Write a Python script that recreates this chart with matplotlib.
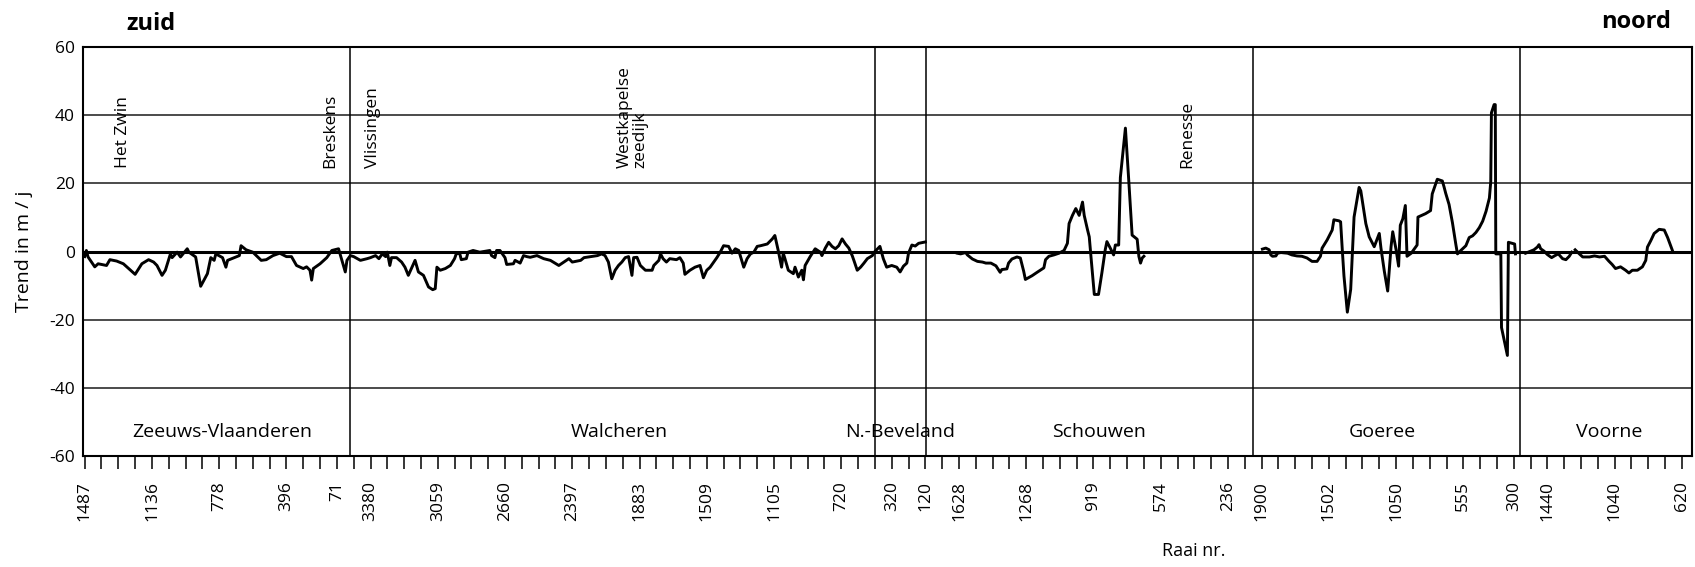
import numpy as np
import matplotlib.pyplot as plt

plt.rcParams['font.family'] = ['Open Sans', 'DejaVu Sans']
plt.rcParams['axes.unicode_minus'] = False

# trend (m/j) per kustvak, x = positie langs de raai-as (1 eenheid = 1 streepje)
zeeuws_vlaanderen = [
    (0.0, -1.5), (0.1, 0.3), (0.2, -1.6), (0.6, -4.5), (0.8, -3.6), (1.3, -4.1), (1.5, -2.4),
    (1.9, -2.8), (2.3, -3.6), (3.0, -6.7), (3.4, -3.6), (3.8, -2.4), (4.1, -3.1), (4.3, -4.1),
    (4.6, -7.0), (4.8, -5.5), (5.1, -0.7), (5.2, -1.8), (5.5, -0.2), (5.7, -1.6), (6.1, 0.8),
    (6.2, -0.2), (6.6, -1.6), (6.9, -10.2), (7.3, -6.5), (7.5, -1.8), (7.7, -2.6), (7.8, -0.7),
    (8.2, -1.8), (8.4, -4.6), (8.5, -2.6), (8.9, -1.8), (9.2, -1.2), (9.3, 1.7), (9.6, 0.5),
    (10.0, -0.2), (10.5, -2.6), (10.8, -2.4), (11.2, -1.2), (11.6, -0.5), (12.0, -1.5),
    (12.3, -1.5), (12.6, -4.1), (13.0, -5.0), (13.2, -4.5), (13.4, -5.5), (13.5, -8.4),
    (13.6, -5.0), (14.0, -3.6), (14.4, -1.8), (14.7, 0.3), (15.1, 0.8), (15.3, -2.6),
    (15.5, -6.0), (15.6, -2.6), (15.8, -1.2),
]
walcheren = [
    (16.0, -1.5), (16.4, -2.6), (16.8, -2.1), (17.0, -1.8), (17.3, -1.2), (17.5, -2.1),
    (17.7, -0.7), (17.9, -1.5), (18.0, -0.2), (18.15, -4.1), (18.25, -1.8), (18.55, -1.8),
    (18.85, -3.1), (19.05, -4.6), (19.25, -7.0), (19.45, -4.8), (19.65, -2.6), (19.85, -6.0),
    (20.15, -7.0), (20.45, -10.4), (20.7, -11.2), (20.85, -10.9), (20.95, -4.6), (21.15, -5.5),
    (21.45, -5.0), (21.75, -4.1), (22.0, -2.1), (22.1, -0.7), (22.3, -0.5), (22.4, -2.4),
    (22.7, -2.1), (22.8, -0.2), (23.1, 0.3), (23.5, -0.2), (24.1, 0.3), (24.2, -1.2),
    (24.4, -1.8), (24.5, 0.3), (24.7, 0.3), (25.0, -1.8), (25.1, -3.8), (25.5, -3.6),
    (25.6, -2.6), (25.9, -3.4), (26.1, -1.2), (26.3, -1.5), (26.5, -1.7), (26.9, -1.2),
    (27.3, -2.1), (27.7, -2.6), (28.2, -4.1), (28.5, -3.1), (28.8, -2.1), (29.0, -3.1),
    (29.5, -2.6), (29.7, -1.8), (30.1, -1.5), (30.5, -1.2), (30.75, -0.7), (30.95, -1.2),
    (31.15, -3.1), (31.35, -8.0), (31.55, -5.5), (31.75, -4.1), (31.95, -3.1), (32.15, -1.8),
    (32.35, -1.5), (32.55, -7.0), (32.65, -1.8), (32.85, -1.7), (33.05, -4.1), (33.35, -5.5),
    (33.75, -5.5), (33.85, -4.1), (34.15, -2.6), (34.25, -0.7), (34.4, -2.1), (34.6, -3.1),
    (34.8, -2.1), (35.2, -2.4), (35.4, -1.8), (35.6, -3.4), (35.7, -6.7), (36.0, -5.5),
    (36.3, -4.6), (36.6, -4.1), (36.8, -7.7), (37.0, -5.5), (37.2, -4.6), (37.6, -1.8),
    (37.8, -0.2), (38.0, 1.7), (38.3, 1.5), (38.5, -0.5), (38.7, 0.8), (38.9, 0.3),
    (39.2, -4.6), (39.4, -2.1), (39.6, -0.7), (39.8, -0.2), (40.0, 1.5), (40.2, 1.7),
    (40.6, 2.2), (40.7, 2.7), (40.9, 3.7), (41.05, 4.7), (41.25, 0.3), (41.35, -2.1),
    (41.45, -4.6), (41.55, -0.5), (41.65, -2.1), (41.85, -5.5), (42.15, -6.5), (42.25, -4.6),
    (42.45, -7.5), (42.65, -5.5), (42.75, -8.3), (42.85, -4.1), (43.15, -1.5), (43.45, 0.8),
    (43.75, -0.2), (43.85, -1.2), (44.05, 1.0), (44.25, 2.7), (44.45, 1.5), (44.65, 0.8),
    (44.85, 1.7), (45.05, 3.7), (45.25, 2.2), (45.45, 1.0), (45.65, -1.2), (45.75, -2.6),
    (45.95, -5.5), (46.15, -4.6), (46.35, -3.4), (46.55, -2.1), (46.85, -1.2), (47.0, 0.0),
]
noord_beveland = [
    (47.3, 1.5), (47.5, -2.1), (47.7, -4.6), (48.0, -4.1), (48.3, -4.6), (48.5, -6.0),
    (48.7, -4.3), (48.9, -3.4), (49.0, -0.5), (49.2, 1.9), (49.4, 1.6), (49.6, 2.4),
    (49.8, 2.6), (50.0, 2.8),
]
schouwen = [
    (51.9, -0.5), (52.1, -0.7), (52.4, -0.3), (52.5, -1.0), (52.8, -2.2), (53.1, -2.9),
    (53.4, -3.1), (53.6, -3.4), (53.9, -3.4), (54.2, -4.2), (54.45, -6.1), (54.55, -5.3),
    (54.85, -5.1), (54.95, -3.4), (55.15, -2.2), (55.45, -1.6), (55.65, -1.9), (55.85, -5.8),
    (55.95, -8.2), (56.35, -7.1), (56.65, -6.1), (57.05, -4.8), (57.15, -2.4), (57.35, -1.4),
    (57.65, -1.0), (57.95, -0.5), (58.25, 0.3), (58.45, 2.4), (58.55, 8.2), (58.75, 10.6),
    (58.95, 12.6), (59.15, 10.6), (59.35, 14.5), (59.45, 10.6), (59.65, 6.3), (59.75, 4.3),
    (59.85, -1.4), (60.05, -12.6), (60.3, -12.6), (60.5, -6.3), (60.7, 0.5), (60.8, 2.9),
    (61.0, 1.0), (61.2, -1.0), (61.3, 1.9), (61.5, 1.9), (61.6, 21.7), (61.9, 36.2),
    (62.1, 20.8), (62.3, 4.8), (62.6, 3.6), (62.7, -1.4), (62.8, -3.4), (62.9, -1.9),
    (63.0, -1.4),
]
goeree = [
    (70.05, 0.7), (70.25, 1.0), (70.45, 0.5), (70.55, -1.0), (70.65, -1.4), (70.85, -1.3),
    (70.95, -0.5), (71.15, -0.3), (71.55, -0.5), (71.8, -1.0), (72.1, -1.3), (72.4, -1.4),
    (72.7, -1.9), (73.0, -2.9), (73.3, -2.9), (73.5, -1.4), (73.6, 1.0), (73.9, 3.4),
    (74.2, 6.3), (74.3, 9.3), (74.6, 9.0), (74.7, 8.7), (74.8, 0.5), (74.9, -7.2),
    (75.1, -17.8), (75.3, -11.1), (75.5, 10.1), (75.8, 18.8), (75.9, 17.8), (76.2, 8.2),
    (76.4, 4.3), (76.7, 1.4), (77.0, 5.3), (77.1, 1.0), (77.3, -5.8), (77.5, -11.6),
    (77.7, 1.4), (77.8, 5.8), (78.0, 0.5), (78.15, -4.3), (78.25, 7.7), (78.4, 9.6),
    (78.55, 13.5), (78.65, -1.4), (78.9, -0.5), (79.25, 1.9), (79.3, 10.1), (79.75, 11.1),
    (80.05, 12.0), (80.15, 16.9), (80.45, 21.2), (80.75, 20.7), (80.85, 19.0), (80.95, 17.1),
    (81.15, 13.8), (81.35, 8.5), (81.55, 2.2), (81.65, -0.7), (81.85, 0.3), (82.15, 1.7),
    (82.35, 4.1), (82.55, 4.6), (82.75, 5.6), (82.95, 7.0), (83.15, 8.9), (83.35, 11.8),
    (83.55, 15.7), (83.63, 20.5), (83.67, 40.7), (83.83, 43.1), (83.9, 43.1), (83.93, -0.7),
    (84.23, -0.7), (84.27, -22.3), (84.62, -30.5), (84.68, 2.7), (85.05, 2.2), (85.1, -0.7),
]
voorne = [
    (85.7, -0.5), (86.0, 0.1), (86.2, 0.5), (86.4, 1.3), (86.5, 2.0), (86.6, 0.8), (86.8, 0.1),
    (87.0, -0.9), (87.25, -1.8), (87.45, -1.2), (87.65, -0.7), (87.9, -2.1), (88.1, -2.4),
    (88.3, -1.4), (88.45, -0.2), (88.55, np.nan),
    (88.65, 0.5), (88.9, -0.7), (89.1, -1.6), (89.5, -1.6), (89.8, -1.3), (90.1, -1.6),
    (90.4, -1.4), (90.65, -2.8), (90.85, -3.8), (91.05, -5.0), (91.35, -4.5), (91.65, -5.5),
    (91.85, -6.3), (92.05, -5.5), (92.35, -5.5), (92.65, -4.5), (92.85, -2.6), (92.95, 1.3),
    (93.15, 3.2), (93.35, 5.3), (93.65, 6.5), (93.95, 6.3), (94.15, 4.1), (94.45, 0.1),
]

# raainummers onder de as
tick_pos = [0, 4, 8, 12, 15, 17, 21, 25, 29, 33, 37, 41, 45, 48, 50, 52, 56, 60, 64, 68,
            70, 74, 78, 82, 85, 87, 91, 95]
tick_raai = ['1487', '1136', '778', '396', '71', '3380', '3059', '2660', '2397', '1883',
             '1509', '1105', '720', '320', '120', '1628', '1268', '919', '574', '236',
             '1900', '1502', '1050', '555', '300', '1440', '1040', '620']

# kustvakken
region_bounds = [15.8, 47.0, 50.06, 69.5, 85.36]
region_names = ['Zeeuws-Vlaanderen', 'Walcheren', 'N.-Beveland', 'Schouwen', 'Goeree', 'Voorne']
region_centers = [8.2, 31.8, 48.5, 60.3, 77.2, 90.7]

places = ['Het Zwin', 'Breskens', 'Vlissingen', 'Westkapelse\nzeedijk', 'Renesse']
place_pos = [2.3, 14.6, 17.15, 32.6, 65.6]

fig = plt.figure(figsize=(16.95, 5.67), dpi=100)
ax = fig.add_axes([83 / 1695, 1 - 456 / 567, 1609 / 1695, 409 / 567])

# raster
for yv in [-40, -20, 20, 40]:
    ax.axhline(yv, color='#1a1a1a', lw=1.1, zorder=1)
ax.axhline(0, color='black', lw=2.2, zorder=1)
for xb in region_bounds:
    ax.axvline(xb, color='black', lw=1.1, zorder=1)

# data
vast = np.array(zeeuws_vlaanderen + walcheren + noord_beveland)
ax.plot(vast[:, 0], vast[:, 1], color='black', lw=2.1, zorder=3)
for seg in [schouwen, goeree, voorne]:
    seg = np.array(seg)
    ax.plot(seg[:, 0], seg[:, 1], color='black', lw=2.1, zorder=3)

ax.set_xlim(-0.1, 95.6)
ax.set_ylim(-60, 60)
ax.set_yticks([60, 40, 20, 0, -20, -40, -60])
ax.set_yticklabels(['60', '40', '20', '0', '-20', '-40', '-60'])
ax.tick_params(axis='y', length=0, pad=6, labelsize=12.5)

ax.set_xticks(tick_pos)
ax.set_xticklabels(tick_raai, rotation=90)
ax.set_xticks([i for i in range(96) if i not in tick_pos], minor=True)
ax.tick_params(axis='x', which='both', direction='out', length=9, width=1.1,
               pad=9, labelsize=12.5)

for s in ax.spines.values():
    s.set_linewidth(1.5)

for name, xc in zip(region_names, region_centers):
    ax.text(xc, -53, name, ha='center', va='center', fontsize=14)

for name, xp in zip(places, place_pos):
    ax.text(xp, 24.5, name, ha='center', va='bottom', rotation=90,
            multialignment='left', fontsize=12.5, linespacing=1.0)

fig.text(24 / 1695, 1 - 251 / 567, 'Trend in m / j', rotation=90, ha='center',
         va='center', fontsize=14)
fig.text(1194 / 1695, 1 - 551 / 567, 'Raai nr.', ha='center', va='center', fontsize=13)
fig.text(126 / 1695, 1 - 30 / 567, 'zuid', ha='left', va='baseline',
         fontsize=17, fontweight='bold')
fig.text(1671 / 1695, 1 - 28 / 567, 'noord', ha='right', va='baseline',
         fontsize=17, fontweight='bold')

fig.savefig('out.png', dpi=100)
